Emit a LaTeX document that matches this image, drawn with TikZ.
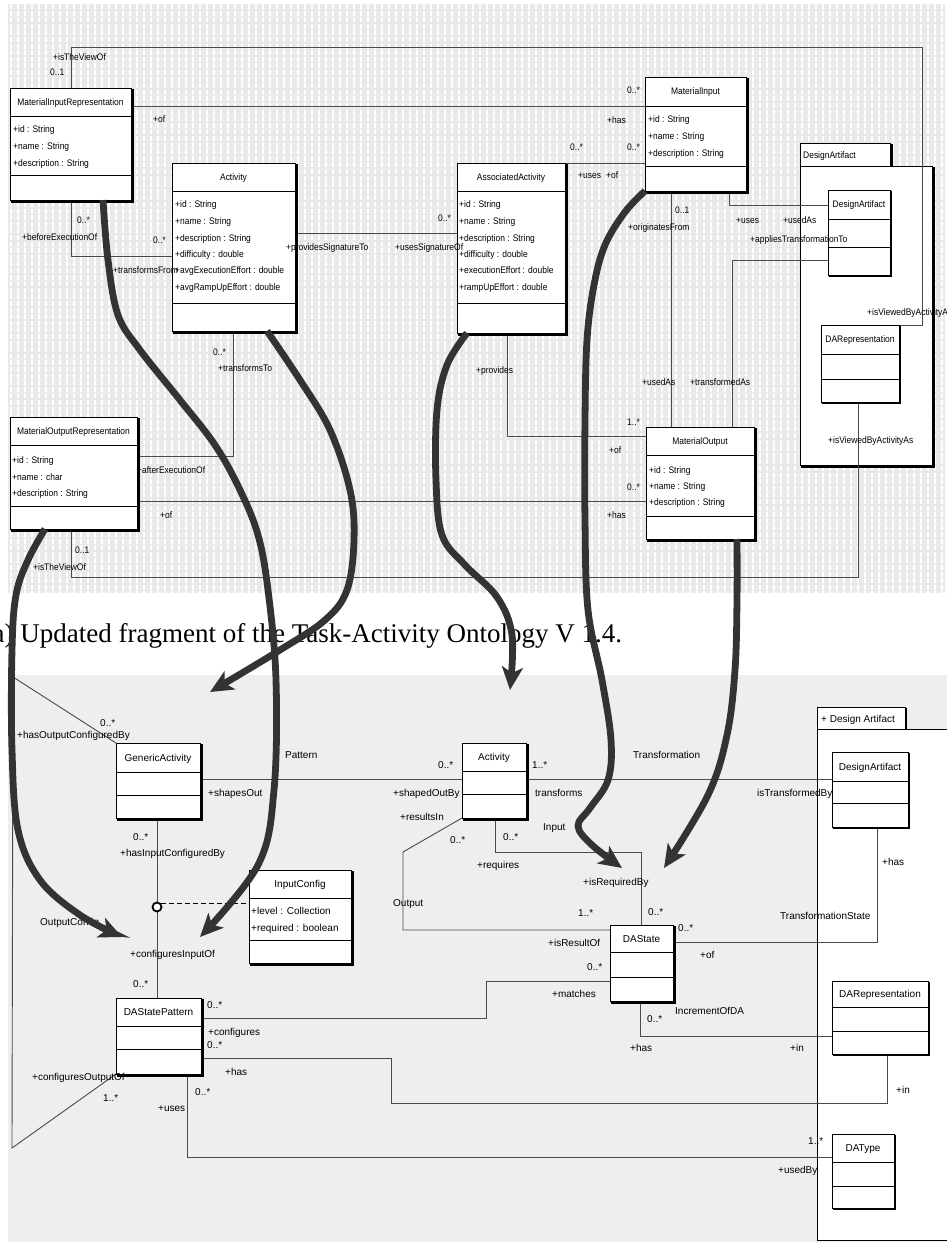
\documentclass[tikz,border=0pt]{standalone}
\usepackage{fontspec}
\newfontfamily\topf[FakeStretch=0.89]{Liberation Sans}
\newfontfamily\botf{Liberation Sans}
\newfontfamily\capf{Liberation Serif}
\usetikzlibrary{arrows.meta}
\definecolor{topbg}{HTML}{E9E9E9}
\definecolor{botbg}{HTML}{EEEEEE}
\definecolor{arrgray}{HTML}{333333}
\definecolor{conncol}{HTML}{4A4A4A}
\pgfdeclarelayer{back}
\pgfdeclarelayer{mid}
\pgfsetlayers{back,mid,main}
\newcounter{lbl}
\newcommand\clsfont{\topf\fontsize{9.5}{11}\selectfont}
\newcommand\toff{3.4}
\newcommand\LT[3]{\stepcounter{lbl}\node[lt] (lab\arabic{lbl}) at (#1,#2+3.4) {#3};}
\newcommand\LB[3]{\stepcounter{lbl}\node[lb] (lab\arabic{lbl}) at (#1,#2+3.6) {#3};}
% #1 name, #2 x1, #3 y1, #4 x2, #5 y2, #6 sep1, #7 sep2, #8 title, #9 shadow
\newcommand\umlbox[9]{%
  \fill[black] (#2+1,#3+1) rectangle (#4+#9,#5+#9);
  \node[clsbox, anchor=north west, minimum width={(#4-#2)*1pt}, minimum height={(#5-#3)*1pt}] (#1) at (#2,#3) {};
  \draw[sepline] (#1.west |- 0,#6) -- (#1.east |- 0,#6);
  \draw[sepline] (#1.west |- 0,#7) -- (#1.east |- 0,#7);
  \node[inner sep=0pt, anchor=base, font=\clsfont] (#1-title) at ({(#2+#4)/2},{(#3+#6)/2+\toff}) {#8};
}
\tikzset{
  clsbox/.style={draw=black, fill=white, line width=0.8pt, inner sep=0pt, outer sep=0pt},
  sepline/.style={draw=black, line width=0.8pt},
  conn/.style={draw=conncol, line width=0.9pt},
  lt/.style={font=\topf\fontsize{9.5}{11}\selectfont, anchor=base west, inner sep=0pt},
  lb/.style={font=\botf\fontsize{10}{12}\selectfont, anchor=base west, inner sep=0pt},
  bigarr/.style={draw=arrgray, line width=6.8pt, line cap=butt, -{Stealth[length=23pt,width=21pt,inset=6pt]}},
}
\begin{document}
\begin{tikzpicture}[x=1pt,y=-1pt]
\useasboundingbox (0,0) rectangle (947,1242);
\clip (0,0) rectangle (947,1242);
\begin{pgfonlayer}{back}
\fill[white] (0,0) rectangle (947,1242);
% ---------------- top panel background
\fill[topbg] (8,4) rectangle (945,593);
\foreach \gx in {11,18,...,945}
  \draw[white, line width=1.5pt, dash pattern=on 5pt off 1.6pt] (\gx,4) -- (\gx,593);
% ---------------- top package
\fill[black] (801,144) rectangle (892.5,166);
\node[clsbox, anchor=north west, minimum width=90pt, minimum height=23pt] (pkgatab) at (800,143) {};
\fill[black] (801,167) rectangle (935,468);
\node[clsbox, anchor=north west, minimum width=132pt, minimum height=299pt] (pkga) at (800,166) {};
% ---------------- bottom panel
\fill[botbg] (8,675) rectangle (947,1242);
\fill[black] (818,708) rectangle (907,729);
\node[clsbox, anchor=north west, minimum width=88pt, minimum height=22pt] (pkgbtab) at (817,707) {};
\node[clsbox, anchor=north west, minimum width=150pt, minimum height=511pt] (pkgb) at (817,729) {};
\end{pgfonlayer}
\node[inner sep=0pt, anchor=base west, font=\clsfont] (pkgatitle) at (803,158) {DesignArtifact};
% ---------------- top classes
\umlbox{mir}{10}{88}{131}{200}{116}{175}{MaterialInputRepresentation}{3}
\umlbox{acta}{172}{163}{295}{331}{191}{303}{Activity}{3}
\umlbox{aa}{457}{163}{565}{333}{191}{303}{AssociatedActivity}{3}
\umlbox{mi}{645}{77}{746}{191}{106}{166}{MaterialInput}{3}
\umlbox{daa}{828}{190}{890}{275}{219}{247}{DesignArtifact}{1.5}
\umlbox{dara}{821}{325}{899}{402}{354}{379}{DARepresentation}{1.5}
\umlbox{mor}{10}{417}{137}{529}{445}{506}{MaterialOutputRepresentation}{3}
\umlbox{mo}{646}{427}{754}{539}{455}{516}{MaterialOutput}{3}
% ---------------- top connectors
\begin{pgfonlayer}{mid}
\draw[conn] (mir.north -| 71,0) |- (922,47) -- (922,325) -- (dara.north east);
\draw[conn] (mir.east |- 0,106) -- (mi.west |- 0,106);
\draw[conn] (aa.north east) -- (mi.west |- aa.north east);
\draw[conn] (mir.south -| 71,0) |- (acta.west |- 0,256);
\draw[conn] (acta.east |- 0,233) -- (aa.west |- 0,233);
\draw[conn] (acta.south -| 233,0) |- (mor.east |- 0,456);
\draw[conn] (mor.east |- 0,501) -- (mo.west |- 0,501);
\draw[conn] (aa.south -| 507,0) |- (mo.west |- 0,436);
\draw[conn] (mor.south -| 71,0) |- (858,577) -- (dara.south -| 858,0);
\draw[conn] (mi.south -| 671,0) -- (mo.north -| 671,0);
\draw[conn] (mi.south -| 729,0) |- (daa.west |- 0,205);
\draw[conn] (daa.west |- 0,260) -| (mo.north -| 732,0);
\end{pgfonlayer}
% attributes
\LT{13}{129}{+id : String}
\LT{13}{146}{+name : String}
\LT{13}{163}{+description : String}
\LT{175}{204}{+id : String}
\LT{175}{221}{+name : String}
\LT{175}{238}{+description : String}
\LT{175}{254}{+difficulty : double}
\LT{175}{270}{+avgExecutionEffort : double}
\LT{175}{287}{+avgRampUpEffort : double}
\LT{459}{204}{+id : String}
\LT{459}{221}{+name : String}
\LT{459}{238}{+description : String}
\LT{459}{254}{+difficulty : double}
\LT{459}{270}{+executionEffort : double}
\LT{459}{287}{+rampUpEffort : double}
\LT{648}{119}{+id : String}
\LT{648}{136}{+name : String}
\LT{648}{153}{+description : String}
\LT{12}{460}{+id : String}
\LT{12}{477}{+name : char}
\LT{12}{493}{+description : String}
\LT{649}{470}{+id : String}
\LT{649}{486}{+name : String}
\LT{649}{502}{+description : String}
% top labels
\LT{53}{57}{+isTheViewOf}
\LT{50}{72}{0..1}
\LT{153}{119}{+of}
\LT{627}{90}{0..*}
\LT{607}{120}{+has}
\LT{570}{147}{0..*}
\LT{627}{147}{0..*}
\LT{578}{175}{+uses}
\LT{606}{175}{+of}
\LT{77}{220}{0..*}
\LT{22}{237}{+beforeExecutionOf}
\LT{153}{240}{0..*}
\LT{113}{270}{+transformsFrom}
\LT{286}{247}{+providesSignatureTo}
\LT{395}{247}{+usesSignatureOf}
\LT{438}{218}{0..*}
\LT{675}{210}{0..1}
\LT{628}{227}{+originatesFrom}
\LT{736}{220}{+uses}
\LT{783}{220}{+usedAs}
\LT{750}{239}{+appliesTransformationTo}
\LT{867}{312}{+isViewedByActivityAs}
\LT{213}{352}{0..*}
\LT{218}{368}{+transformsTo}
\LT{476}{370}{+provides}
\LT{642}{382}{+usedAs}
\LT{690}{382}{+transformedAs}
\LT{627}{422}{1..*}
\LT{609}{450}{+of}
\LT{828}{440}{+isViewedByActivityAs}
\LT{137}{470}{+afterExecutionOf}
\LT{627}{487}{0..*}
\LT{160}{515}{+of}
\LT{607}{515}{+has}
\LT{75}{550}{0..1}
\LT{33}{567}{+isTheViewOf}
% ---------------- caption
\node[anchor=base west, inner sep=0pt, font=\capf\fontsize{27}{30}\selectfont] (caption) at (-7.5,642) {a) Updated fragment of the Task-Activity Ontology V 1.4.};
% ---------------- bottom
\renewcommand\clsfont{\botf\fontsize{10}{12}\selectfont}
\renewcommand\toff{3.6}
\node[inner sep=0pt, anchor=base west, font=\clsfont] (pkgbtitle) at (821,722) {+ Design Artifact};
\umlbox{ga}{116}{743}{200}{818}{772}{795}{GenericActivity}{3}
\umlbox{actb}{462}{743}{526}{818}{771}{794}{Activity}{3}
\umlbox{ic}{249}{870}{351}{963}{898}{940}{InputConfig}{3}
\umlbox{dsp}{116}{998}{201}{1074}{1026}{1049}{DAStatePattern}{3}
\umlbox{ds}{610}{925}{673}{1001}{952}{977}{DAState}{3}
\umlbox{dab}{832}{752}{908}{827}{781}{803}{DesignArtifact}{1.5}
\umlbox{darb}{832}{981}{928}{1054}{1007}{1031}{DARepresentation}{1.5}
\umlbox{dt}{832}{1134}{894}{1208}{1162}{1186}{DAType}{1.5}
\LB{251}{911}{+level : Collection}
\LB{251}{928}{+required : boolean}
% bottom connectors
\begin{pgfonlayer}{mid}
\draw[conn] (ga.north west) -- (13,677) -- (12,1148) -- (dsp.south west);
\draw[conn] (ga.east |- 0,779) -- (actb.west |- 0,779);
\draw[conn] (actb.east |- 0,779) -- (dab.west |- 0,779);
\draw[conn] (ga.south -| 157,0) -- (dsp.north -| 157,0);
\draw[conn] (actb.south west) -- (403,852) |- (ds.west |- 0,930);
\draw[conn] (actb.south -| 495,0) |- (641,852) -- (ds.north -| 641,0);
\draw[conn] (ds.east |- 0,942) -| (dab.south -| 877,0);
\draw[conn] (ds.west |- 0,981) -| (486,1018) -- (dsp.east |- 0,1018);
\draw[conn] (ds.south -| 640,0) |- (darb.west |- 0,1036);
\draw[conn] (dsp.east |- 0,1058) -| (391,1103) -| (darb.south -| 887,0);
\draw[conn] (dsp.south -| 187,0) |- (dt.west |- 0,1157);
\end{pgfonlayer}
% association class
\node[circle, draw=black, fill=white, line width=1.8pt, minimum size=9pt, inner sep=0pt] (acirc) at (157,907) {};
\draw[black, line width=0.9pt, dash pattern=on 5pt off 3pt] (acirc.north east) -- (ic.west |- acirc.north east);
% bottom labels
\LB{100}{723}{0..*}
\LB{17}{735}{+hasOutputConfiguredBy}
\LB{285}{755}{Pattern}
\LB{208}{793}{+shapesOut}
\LB{438}{765}{0..*}
\LB{393}{793}{+shapedOutBy}
\LB{532}{765}{1..*}
\LB{535}{793}{transforms}
\LB{633}{755}{Transformation}
\LB{757}{793}{isTransformedBy}
\LB{400}{817}{+resultsIn}
\LB{450}{840}{0..*}
\LB{543}{827}{Input}
\LB{503}{837}{0..*}
\LB{477}{865}{+requires}
\LB{133}{837}{0..*}
\LB{120}{853}{+hasInputConfiguredBy}
\LB{583}{882}{+isRequiredBy}
\LB{882}{862}{+has}
\LB{393}{903}{Output}
\LB{578}{913}{1..*}
\LB{648}{912}{0..*}
\LB{780}{916}{TransformationState}
\LB{40}{922}{OutputConfig}
\LB{678}{928}{0..*}
\LB{548}{943}{+isResultOf}
\LB{130}{954}{+configuresInputOf}
\LB{700}{955}{+of}
\LB{587}{967}{0..*}
\LB{133}{984}{0..*}
\LB{552}{994}{+matches}
\LB{207}{1005}{0..*}
\LB{675}{1011}{IncrementOfDA}
\LB{647}{1019}{0..*}
\LB{208}{1032}{+configures}
\LB{207}{1045}{0..*}
\LB{630}{1048}{+has}
\LB{790}{1048}{+in}
\LB{225}{1072}{+has}
\LB{32}{1077}{+configuresOutputOf}
\LB{896}{1090}{+in}
\LB{195}{1092}{0..*}
\LB{103}{1098}{1..*}
\LB{158}{1108}{+uses}
\LB{808}{1141}{1..*}
\LB{778}{1170}{+usedBy}
% ---------------- thick arrows
\draw[bigarr] plot[smooth, tension=0.6] coordinates {(mir.south -| 103,0) (108,260) (118,315) (140,350) (180,400) (215,445) (240,490) (258,535) (268,590) (276,680) (274,790) (258,865) (200,937)};
\draw[bigarr] plot[smooth, tension=0.6] coordinates {(mor.south -| 45,0) (28,560) (16,595) (12,650) (12,750) (18,830) (40,880) (80,915) (122,937)};
\draw[bigarr] plot[smooth, tension=0.6] coordinates {(acta.south -| 267,0) (300,380) (330,430) (350,490) (354,540) (347,590) (325,620) (280,650) (210,692)};
\draw[bigarr] plot[smooth, tension=0.6] coordinates {(aa.south -| 467,0) (447,365) (437,410) (436,480) (442,535) (465,565) (497,597) (512,635) (510,690)};
\draw[bigarr] plot[smooth, tension=0.6] coordinates {(mi.south west) (625,212) (605,245) (594,285) (587,340) (585,420) (585,520) (588,610) (602,680) (611,740) (608,780) (590,808) (578,826) (592,845) (622,868)};
\draw[bigarr] plot[smooth, tension=0.6] coordinates {(mo.south -| 737,0) (737,600) (735,670) (727,735) (708,795) (664,868)};
\end{tikzpicture}
\end{document}
